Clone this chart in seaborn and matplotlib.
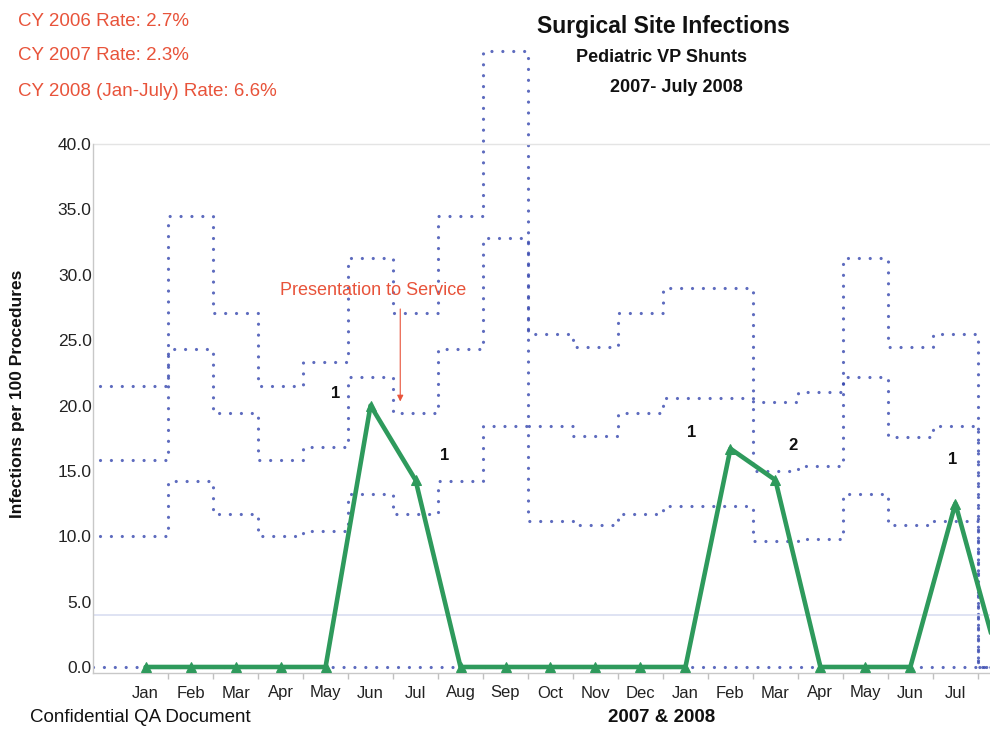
import numpy as np
import pandas as pd
import matplotlib
matplotlib.use("Agg")
import matplotlib.pyplot as plt
import seaborn as sns

# ---------------- data ----------------
months = ["Jan", "Feb", "Mar", "Apr", "May", "Jun", "Jul", "Aug", "Sep", "Oct",
          "Nov", "Dec", "Jan", "Feb", "Mar", "Apr", "May", "Jun", "Jul", "Aug"]
rates = [0, 0, 0, 0, 0, 20.0, 14.3, 0, 0, 0, 0, 0, 0, 16.7, 14.3, 0, 0, 0, 12.5, 0]
infections = [0, 0, 0, 0, 0, 1, 1, 0, 0, 0, 0, 0, 0, 1, 2, 0, 0, 0, 1, 0]
sigma3 = [21.5, 34.5, 27.1, 21.5, 23.3, 31.3, 27.1, 34.5, 47.1, 25.5,
          24.5, 27.1, 29.0, 29.0, 20.3, 21.0, 31.3, 24.5, 25.5, 0]
sigma2 = [15.8, 24.3, 19.4, 15.8, 16.8, 22.2, 19.4, 24.3, 32.8, 18.4,
          17.7, 19.4, 20.6, 20.6, 15.0, 15.4, 22.2, 17.6, 18.4, 0]
sigma1 = [10.0, 14.2, 11.7, 10.0, 10.4, 13.2, 11.7, 14.2, 18.4, 11.2,
          10.9, 11.7, 12.3, 12.3, 9.6, 9.8, 13.2, 10.9, 11.2, 0]
lcl = [0] * 20
center_rate = 4.0
y_ticks = [0, 5, 10, 15, 20, 25, 30, 35, 40]
rate_notes = ["CY 2006 Rate: 2.7%", "CY 2007 Rate: 2.3%", "CY 2008 (Jan-July) Rate: 6.6%"]

# ---------------- style ----------------
sns.set_theme(style="white")
plt.rcParams["font.family"] = ["Liberation Sans", "DejaVu Sans"]

W, H = 990, 729
fig = plt.figure(figsize=(W / 100, H / 100), dpi=100)
ax_left, ax_right, ax_bottom, ax_top = 93, 990, 673, 33
ax = fig.add_axes([ax_left / W, 1 - ax_bottom / H,
                   (ax_right - ax_left) / W, (ax_bottom - ax_top) / H])

pos = np.arange(1, len(months) + 1)
xmin, xmax = -0.17, 19.77
ymin, ymax = -0.46, 48.5

df = pd.DataFrame({"pos": pos, "rate": rates})

BLUE = "#3546AE"
GREEN = "#2E9A5C"
RED = "#E8533A"

edges = np.concatenate([[xmin + 0.15], pos + 0.5])
dot = dict(baseline=None, color=BLUE, lw=2.3, linestyle=(0, (0.01, 3.4)), alpha=0.8)
for series in (sigma3, sigma2, sigma1):
    st = ax.stairs(series, edges, **dot)
    st.set_capstyle("round")
stl = ax.stairs(lcl, np.concatenate([[xmin], pos + 0.5]), **dot)
stl.set_capstyle("round")

ax.axhline(center_rate, color="#D6DBF0", lw=1.1, zorder=1)
ax.axhline(40, color="#E4E4E4", lw=1.0, zorder=1)

sns.lineplot(data=df, x="pos", y="rate", ax=ax, color=GREEN, lw=3.3,
             marker="^", markersize=7, markeredgecolor=GREEN, zorder=5)

offsets = {5: (-25, 9), 6: (21, 18), 13: (-28, 12), 14: (13, 25), 18: (-2, 32)}
for i, n in enumerate(infections):
    if n > 0 and pos[i] < xmax:
        dx, dy = offsets.get(i, (0, 20))
        ax.annotate(str(n), (pos[i], rates[i]), xytext=(dx, dy), textcoords="offset points",
                    ha="center", va="center", fontsize=12, fontweight="bold", color="#111111")

# presentation note
ax.annotate("", xy=(6.66, 20.1), xytext=(6.66, 27.6),
            arrowprops=dict(arrowstyle="-|>", color=RED, lw=0.8, mutation_scale=9))
ax.text(6.06, 28.8, "Presentation to Service", color=RED, fontsize=13,
        ha="center", va="center")

ax.set_xticks(pos)
ax.set_xticklabels(months, fontsize=12, color="#222222")
ax.set_xticks(pos + 0.5, minor=True)
ax.set_yticks(y_ticks)
ax.set_yticklabels([f"{v:.1f}" for v in y_ticks], fontsize=12.5, color="#222222")
ax.set_xlim(xmin, xmax)
ax.set_ylim(ymin, ymax)
ax.tick_params(axis="x", which="major", length=0, pad=9)
ax.tick_params(axis="x", which="minor", length=4, color="#C0C0C0", direction="out", bottom=True)
ax.tick_params(axis="y", length=0, pad=1)
ax.set_xlabel("")
ax.set_ylabel("")
for s in ("top", "right"):
    ax.spines[s].set_visible(False)
for s in ("left", "bottom"):
    ax.spines[s].set_color("#C8C8C8")
    ax.spines[s].set_linewidth(1.0)
ax.spines["left"].set_bounds(ymin, 40)
ax.grid(False)

def ft(x, y, s, **kw):
    fig.text(x / W, 1 - y / H, s, **kw)

ft(663, 27, "Surgical Site Infections", ha="center", va="center", fontsize=16.5, fontweight="bold", color="#111111")
ft(662, 57, "Pediatric VP Shunts", ha="center", va="center", fontsize=13, fontweight="bold", color="#111111")
ft(676, 88, "2007- July 2008", ha="center", va="center", fontsize=13, fontweight="bold", color="#111111")
for note, yy in zip(rate_notes, (22, 56, 92)):
    ft(18, yy, note, ha="left", va="center", fontsize=13.5, color=RED)
ft(18, 394, "Infections per 100 Procedures", ha="center", va="center", rotation=90,
   fontsize=12.5, fontweight="bold", color="#111111")
ft(662, 718, "2007 & 2008", ha="center", va="center", fontsize=13.5, fontweight="bold", color="#111111")
ft(30, 718, "Confidential QA Document", ha="left", va="center", fontsize=13.5, color="#111111")

fig.savefig("out.png", dpi=100)
